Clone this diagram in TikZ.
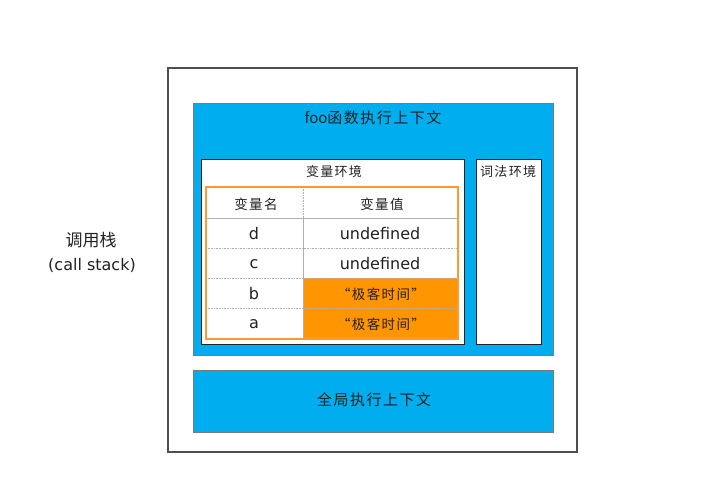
\documentclass[tikz,border=0pt]{standalone}
\usepackage{fontspec}
\setmainfont{DejaVu Sans}
\newfontfamily\cjk{Noto Sans CJK SC}
\newfontfamily\cjksp[LetterSpace=10]{Noto Sans CJK SC}
\definecolor{skyblue}{HTML}{00AEEF}
\definecolor{orfill}{HTML}{FF9500}
\definecolor{orline}{HTML}{FF9A2E}
\definecolor{gridgray}{HTML}{B0B0B0}
\definecolor{ink}{HTML}{222222}
\begin{document}
\begin{tikzpicture}[x=1pt,y=-1pt,
  outerbox/.style={draw=ink!80, line width=1.3pt},
  bluebox/.style={fill=skyblue, draw=ink!60, line width=0.4pt},
  whitebox/.style={fill=white, draw=ink, line width=0.7pt},
  cell/.style={font=\fontsize{16}{16}\selectfont, text=ink, inner sep=0pt},
  cjktext/.style={text=ink, inner sep=0pt},
  solidgrid/.style={draw=gridgray, line width=0.6pt},
  dotgrid/.style={draw=gridgray, line width=0.6pt, densely dotted}]
\useasboundingbox (0,0) rectangle (714,497);
\fill[white] (0,0) rectangle (714,497);
% call stack label
\node[cjktext, font=\cjk\fontsize{17}{17}\selectfont] (csl) at (91,240) {调用栈};
\node[cjktext, font=\fontsize{16}{16}\selectfont] (cse) at (92,265) {(call stack)};
% outer box
\draw[outerbox] (168,68) rectangle (577,452);
% foo context
\draw[bluebox] (193,103) rectangle (553,355);
\node[cjktext, font=\cjk\fontsize{15}{15}\selectfont] (foo) at (373,118) {foo{\cjksp 函数执行上下文}};
% variable environment
\draw[whitebox] (201,159) rectangle (464,344);
\node[cjktext, font=\cjksp\fontsize{13}{13}\selectfont] (venv) at (334,172) {变量环境};
% lexical environment
\draw[whitebox] (476,159) rectangle (541,344);
\node[cjktext, font=\cjksp\fontsize{13}{13}\selectfont, anchor=west] (lenv) at (480,172) {词法环境};
% table
\fill[orfill] (303,278) rectangle (458,339);
\draw[solidgrid] (206,218) -- (458,218);
\draw[dotgrid] (206,248) -- (458,248);
\draw[dotgrid] (206,278) -- (458,278);
\draw[dotgrid] (206,308) -- (458,308);
\draw[dotgrid] (303,187) -- (303,218);
\draw[solidgrid] (303,218) -- (303,339);
\draw[orline, line width=2pt] (206,187) rectangle (458,339);
\node[cjktext, font=\cjksp\fontsize{13.5}{14}\selectfont] (h1) at (256,204) {变量名};
\node[cjktext, font=\cjksp\fontsize{13.5}{14}\selectfont] (h2) at (382,204) {变量值};
\node[cell] (nd) at (254,234) {d};
\node[cell] (vd) at (380,234) {undefined};
\node[cell] (nc) at (254,264) {c};
\node[cell] (vc) at (380,264) {undefined};
\node[cell] (nb) at (254,294) {b};
\node[cjktext, font=\cjksp\fontsize{13.5}{14}\selectfont] (vb) at (381,294) {“极客时间”};
\node[cell] (na) at (254,324) {a};
\node[cjktext, font=\cjksp\fontsize{13.5}{14}\selectfont] (va) at (381,324) {“极客时间”};
% global context
\draw[bluebox] (193,370) rectangle (553,432);
\node[cjktext, font=\cjksp\fontsize{15}{15}\selectfont] (glob) at (374,400) {全局执行上下文};
\end{tikzpicture}
\end{document}
